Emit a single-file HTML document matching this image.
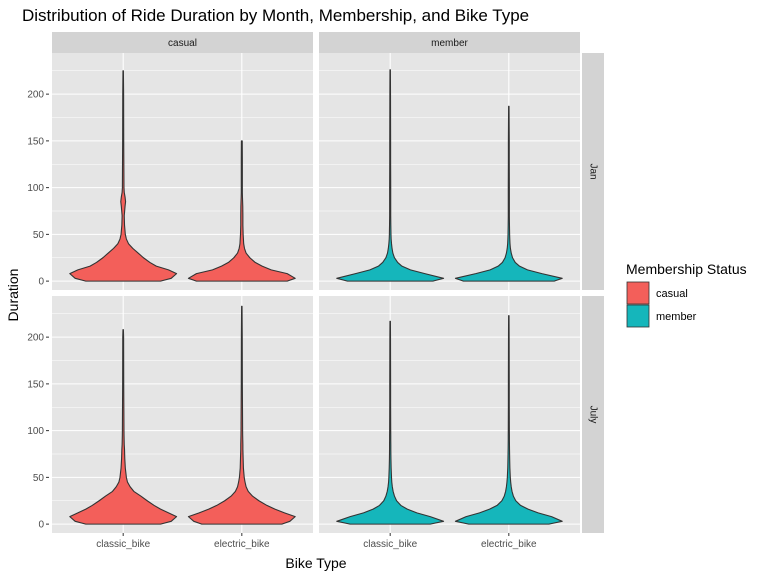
<!DOCTYPE html>
<html><head><meta charset="utf-8"><style>
body{margin:0;background:#fff;font-family:"Liberation Sans",Arial,sans-serif}
svg text{font-family:"Liberation Sans",Arial,sans-serif}
</style></head><body>
<svg id="c" width="768" height="576" xmlns="http://www.w3.org/2000/svg">
<text x="22" y="21" font-size="17" fill="#000">Distribution of Ride Duration by Month, Membership, and Bike Type</text>
<g id="panels"></g>
<text x="316" y="568" font-size="14" text-anchor="middle">Bike Type</text>
<text transform="translate(18,295) rotate(-90)" font-size="14" text-anchor="middle">Duration</text>
<g>
<text x="626" y="274" font-size="14">Membership Status</text>
<rect x="627" y="282" width="22" height="22" fill="#F35F5A" stroke="#333" stroke-width="0.8"/>
<text x="656" y="297" font-size="11">casual</text>
<rect x="627" y="305" width="22" height="22" fill="#15B6BB" stroke="#333" stroke-width="0.8"/>
<text x="656" y="320" font-size="11">member</text>
</g>
</svg>
<script>
const memberships=["casual","member"];
const months=["Jan","July"];
const bikeTypes=["classic_bike","electric_bike"];
const yTicks=[0,50,100,150,200];
const durations=[0,3,8,12,16,20,25,30,35,40,45,50,60,70,80,85,90,95,100,130,150,200,240];
// relative half-widths per violin at each duration
const wJanCasualClassic=[0.7,0.9,1.0,0.85,0.62,0.5,0.38,0.28,0.18,0.1,0.06,0.04,0.025,0.02,0.035,0.045,0.035,0.02,0.015,0.012,0.01,0.008,0.006];
const wJanCasualElectric=[0.85,1.0,0.85,0.55,0.38,0.25,0.15,0.08,0.05,0.035,0.03,0.025,0.02,0.02,0.018,0.015,0.012,0.01,0.01,0.01,0.008,0.006,0.005];
const wJanMemberClassic=[0.8,1.0,0.65,0.38,0.22,0.14,0.08,0.05,0.035,0.025,0.018,0.015,0.012,0.01,0.01,0.01,0.01,0.01,0.01,0.008,0.008,0.006,0.005];
const wJanMemberElectric=[0.85,1.0,0.62,0.35,0.2,0.12,0.07,0.045,0.03,0.022,0.018,0.015,0.012,0.01,0.01,0.01,0.01,0.01,0.01,0.008,0.008,0.006,0.005];
const wJulyCasualClassic=[0.7,0.9,1.0,0.85,0.7,0.58,0.45,0.33,0.2,0.13,0.08,0.06,0.04,0.03,0.025,0.02,0.018,0.016,0.015,0.012,0.01,0.008,0.006];
const wJulyCasualElectric=[0.75,0.9,1.0,0.8,0.62,0.47,0.32,0.2,0.12,0.08,0.06,0.045,0.03,0.025,0.02,0.02,0.018,0.016,0.015,0.012,0.01,0.008,0.006];
const wJulyMemberClassic=[0.75,1.0,0.75,0.5,0.32,0.2,0.12,0.08,0.055,0.04,0.03,0.025,0.018,0.014,0.012,0.012,0.011,0.011,0.01,0.008,0.008,0.006,0.005];
const wJulyMemberElectric=[0.75,1.0,0.8,0.55,0.36,0.22,0.13,0.085,0.06,0.045,0.035,0.028,0.02,0.016,0.013,0.012,0.011,0.011,0.01,0.008,0.008,0.006,0.005];
const maxJanCasual=[225,150];
const maxJanMember=[226,187];
const maxJulyCasual=[208,233];
const maxJulyMember=[217,223];
const W={Jan:{casual:[wJanCasualClassic,wJanCasualElectric],member:[wJanMemberClassic,wJanMemberElectric]},
July:{casual:[wJulyCasualClassic,wJulyCasualElectric],member:[wJulyMemberClassic,wJulyMemberElectric]}};
const M={Jan:{casual:maxJanCasual,member:maxJanMember},July:{casual:maxJulyCasual,member:maxJulyMember}};
const colors={casual:"#F35F5A",member:"#15B6BB"};
const NS="http://www.w3.org/2000/svg";
const g=document.getElementById("panels");
function el(t,a,p){const e=document.createElementNS(NS,t);for(const k in a)e.setAttribute(k,a[k]);(p||g).appendChild(e);return e;}
const colX=[52,319],pw=261,rowY=[53,296],ph=237;
const yMin=-9.5,yMax=244;
memberships.forEach((m,ci)=>{
  const s=el("rect",{x:colX[ci],y:32,width:pw,height:21,fill:"#D3D3D3"});
  
  
  const t=el("text",{x:colX[ci]+pw/2,y:46,"font-size":"10","text-anchor":"middle",fill:"#1a1a1a"});t.textContent=m;
  
  
});
months.forEach((mo,ri)=>{
  const s=el("rect",{x:582,y:rowY[ri],width:22,height:ph,fill:"#D3D3D3"});
  
  
  const cy=rowY[ri]+ph/2;
  const t=el("text",{x:593,y:cy,"font-size":"10","text-anchor":"middle",transform:`rotate(90,593,${cy})`,"dominant-baseline":"central",fill:"#1a1a1a"});t.textContent=mo;
  
  
  const y=v=>rowY[ri]+ph-(v-yMin)/(yMax-yMin)*ph;
  yTicks.forEach(v=>{
    const tl=el("text",{x:44,y:y(v)+3.5,"font-size":"10","text-anchor":"end",fill:"#4d4d4d"});tl.textContent=v;
    
    
    el("line",{x1:46,x2:49,y1:y(v),y2:y(v),stroke:"#333","stroke-width":1});
  });
  memberships.forEach((m,ci)=>{
    const px=colX[ci];
    const bg=el("rect",{x:px,y:rowY[ri],width:pw,height:ph,fill:"#E5E5E5"});
    
    
    for(let v=25;v<yMax;v+=50)el("line",{x1:px,x2:px+pw,y1:y(v),y2:y(v),stroke:"#fff","stroke-width":0.5});
    yTicks.forEach(v=>el("line",{x1:px,x2:px+pw,y1:y(v),y2:y(v),stroke:"#fff","stroke-width":1.1}));
    const x=i=>px+pw*(i+0.6)/2.2;
    bikeTypes.forEach((b,bi)=>el("line",{x1:x(bi),x2:x(bi),y1:rowY[ri],y2:rowY[ri]+ph,stroke:"#fff","stroke-width":1.1}));
    bikeTypes.forEach((b,bi)=>{
      const w=W[mo][m][bi],mx=M[mo][m][bi],hw=pw/2.2*0.45,cx=x(bi);
      const pts=[];
      durations.forEach((d,k)=>{if(d<=mx)pts.push([d,w[k]]);});
      pts.push([mx,0.004]);
      let dd="M"+pts.map(p=>`${cx+p[1]*hw},${y(p[0])}`).join("L");
      dd+="L"+pts.slice().reverse().map(p=>`${cx-p[1]*hw},${y(p[0])}`).join("L")+"Z";
      const v=el("path",{d:dd,fill:colors[m],stroke:"#333","stroke-width":1.1,"stroke-linejoin":"round"});
      
      
    });
    if(ri===1){
      bikeTypes.forEach((b,bi)=>{
        el("line",{x1:x(bi),x2:x(bi),y1:rowY[ri]+ph,y2:rowY[ri]+ph+3,stroke:"#333"});
        const t=el("text",{x:x(bi),y:rowY[ri]+ph+14,"font-size":"10","text-anchor":"middle",fill:"#4d4d4d"});t.textContent=b;
        
        
      });
    }
  });
});
</script>
</body></html>
